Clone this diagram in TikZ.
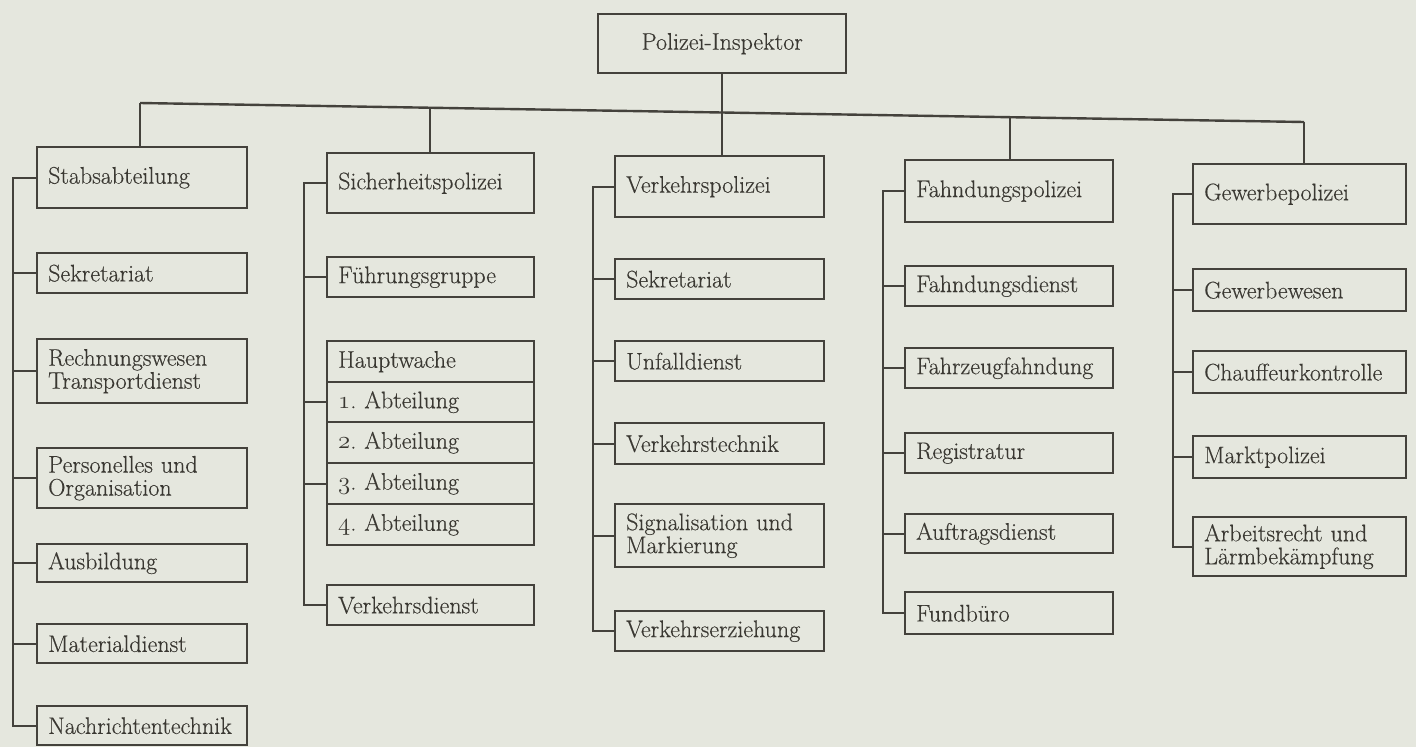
\documentclass[tikz,border=0pt]{standalone}
\usepackage{fontspec}
\setmainfont{Latin Modern Roman}[FakeBold=0.35]
\usepackage{xcolor}
\definecolor{paper}{RGB}{229,231,222}
\definecolor{ink}{RGB}{68,66,60}
\definecolor{txt}{RGB}{58,56,50}
\newcommand\osn[1]{{\usefont{OML}{cmm}{m}{it}#1}}
\tikzset{
  orgbox/.style={draw=ink, line width=2.4pt, inner xsep=11pt, inner ysep=2pt, align=left,
    font=\fontsize{24}{23}\selectfont\frenchspacing, text=txt},
  conn/.style={draw=ink, line width=2.4pt},
}
\newcommand\bx[6]{%
  \pgfmathsetmacro\bxw{#4-#2}%
  \pgfmathsetmacro\bxh{#5-#3}%
  \pgfmathsetmacro\bxt{#4-#2-22}%
  \node[orgbox, anchor=north west, minimum width=\bxw pt, minimum height=\bxh pt, text width=\bxt pt] (#1) at (#2,-#3) {#6};}
\begin{document}
\begin{tikzpicture}[x=1pt,y=1pt]
\fill[paper] (0,0) rectangle (1416,-747);
\useasboundingbox (0,0) rectangle (1416,-747);

% top
\node[orgbox, anchor=north west, minimum width=248pt, minimum height=59pt, align=center] (top) at (597,-13) {Polizei-Inspektor};

% column 1
\bx{stab}{36}{146}{246}{207}{Stabsabteilung}
\bx{sekA}{36}{252}{246}{292}{Sekretariat}
\bx{rech}{36}{338}{246}{402}{Rechnungswesen\\Transportdienst}
\bx{pers}{36}{447}{246}{507}{Personelles und\\Organisation}
\bx{ausb}{36}{543}{246}{581}{Ausbildung}
\bx{mat}{36}{623}{246}{662}{Materialdienst}
\bx{nach}{36}{705}{246}{744}{Nachrichtentechnik}

% column 2
\bx{sich}{326}{152}{533}{212}{Sicherheitspolizei}
\bx{fuehr}{326}{256}{533}{296}{Führungsgruppe}
\bx{hw}{326}{340}{533}{381}{Hauptwache}
\bx{ab1}{326}{381}{533}{421}{\osn{1}. Abteilung}
\bx{ab2}{326}{421}{533}{462}{\osn{2}. Abteilung}
\bx{ab3}{326}{462}{533}{503}{\osn{3}. Abteilung}
\bx{ab4}{326}{503}{533}{544}{\osn{4}. Abteilung}
\bx{vdienst}{326}{584}{533}{624}{Verkehrsdienst}

% column 3
\bx{vpol}{614}{155}{823}{216}{Verkehrspolizei}
\bx{sekB}{614}{258}{823}{298}{Sekretariat}
\bx{unf}{614}{340}{823}{380}{Unfalldienst}
\bx{vtech}{614}{422}{823}{463}{Verkehrstechnik}
\bx{sig}{614}{503}{823}{566}{Signalisation und\\Markierung}
\bx{verz}{614}{610}{823}{650}{Verkehrserziehung}

% column 4
\bx{fpol}{904}{159}{1112}{221}{Fahndungspolizei}
\bx{fdienst}{904}{265}{1112}{305}{Fahndungsdienst}
\bx{fzf}{904}{347}{1112}{387}{Fahrzeugfahndung}
\bx{reg}{904}{432}{1112}{472}{Registratur}
\bx{auft}{904}{513}{1112}{552}{Auftragsdienst}
\bx{fund}{904}{591}{1112}{633}{Fundbüro}

% column 5
\bx{gpol}{1192}{163}{1405}{223}{Gewerbepolizei}
\bx{gwes}{1192}{268}{1405}{310}{Gewerbewesen}
\bx{chauf}{1192}{350}{1405}{392}{Chauffeurkontrolle}
\bx{markt}{1192}{435}{1405}{477}{Marktpolizei}
\bx{arb}{1192}{516}{1405}{575}{Arbeitsrecht und\\Lärmbekämpfung}

% bar coordinates
\coordinate (b1) at (140,-103);
\coordinate (b2) at (430,-108);
\coordinate (b3) at (722,-113);
\coordinate (b4) at (1010,-118);
\coordinate (b5) at (1304,-122);
\draw[conn] (b1) -- (b5);
\draw[conn] (top.south -| b3) -- (b3);
\draw[conn] (b1) -- (b1 |- stab.north);
\draw[conn] (b2) -- (b2 |- sich.north);
\draw[conn] (b3) -- (b3 |- vpol.north);
\draw[conn] (b4) -- (b4 |- fpol.north);
\draw[conn] (b5) -- (b5 |- gpol.north);

% tree lines
\coordinate (t1) at (13,0);
\coordinate (t2) at (304,0);
\coordinate (t3) at (593,0);
\coordinate (t4) at (883,0);
\coordinate (t5) at (1173,0);

\draw[conn] (stab.west) -- (stab.west -| t1) |- (nach.west);
\foreach \n in {sekA,rech,pers,ausb,mat} \draw[conn] (\n.west) -- (\n.west -| t1);

\draw[conn] (sich.west) -- (sich.west -| t2) |- (vdienst.west);
\foreach \n in {fuehr,ab1,ab3} \draw[conn] (\n.west) -- (\n.west -| t2);

\draw[conn] (vpol.west) -- (vpol.west -| t3) |- (verz.west);
\foreach \n in {sekB,unf,vtech,sig} \draw[conn] (\n.west) -- (\n.west -| t3);

\draw[conn] (fpol.west) -- (fpol.west -| t4) |- (fund.west);
\foreach \n in {fdienst,fzf,reg,auft} \draw[conn] (\n.west) -- (\n.west -| t4);

\draw[conn] (gpol.west) -- (gpol.west -| t5) |- (arb.west);
\foreach \n in {gwes,chauf,markt} \draw[conn] (\n.west) -- (\n.west -| t5);
\end{tikzpicture}
\end{document}
